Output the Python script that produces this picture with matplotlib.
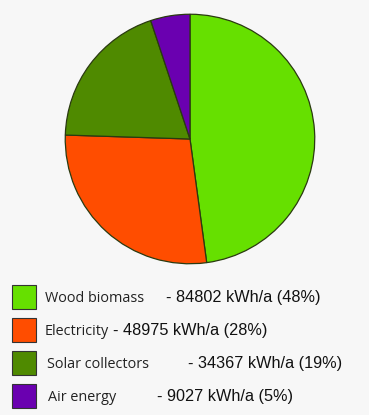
import matplotlib.pyplot as plt
from matplotlib.patches import Rectangle

labels = ["Wood biomass", "Electricity", "Solar collectors", "Air energy"]
values = [84802, 48975, 34367, 9027]
percents = [48, 28, 19, 5]
colors = ["#66e000", "#ff4d00", "#4f8a00", "#6a00b0"]

W, H = 369, 415
fig = plt.figure(figsize=(W / 100, H / 100), dpi=100)
fig.patch.set_facecolor("#f7f7f7")

# pie: centre (190, 139) px, radius ~126 px
cx, cy, r = 190, 139, 126
ax = fig.add_axes([(cx - r) / W, 1 - (cy + r) / H, 2 * r / W, 2 * r / H])
ax.pie(values, colors=colors, startangle=90, counterclock=False,
       wedgeprops=dict(edgecolor="#2a3a10", linewidth=0.9))
ax.set_xlim(-1.01, 1.01)
ax.set_ylim(-1.01, 1.01)
ax.set_aspect("equal")
ax.axis("off")

# legend, drawn by hand because the value text is offset per row
row_y = [297, 330, 363, 396]
name_x = [45, 45, 47, 48]
dash_x = [166, 113, 188, 157]
for i in range(len(labels)):
    y = row_y[i]
    fig.patches.append(Rectangle((12 / W, 1 - (y + 12) / H), 24 / W, 24 / H,
                                 transform=fig.transFigure, facecolor=colors[i],
                                 edgecolor="#333333", linewidth=0.8))
    fig.text(name_x[i] / W, 1 - (y + 5) / H, labels[i], fontsize=10.4,
             family="Open Sans", color="#222222", va="baseline")
    fig.text(dash_x[i] / W, 1 - (y + 5) / H,
             "- %d kWh/a (%d%%)" % (values[i], percents[i]),
             fontsize=11.7, family="Liberation Sans", color="#111111",
             va="baseline")

fig.savefig("out.png", dpi=100, facecolor=fig.get_facecolor())
